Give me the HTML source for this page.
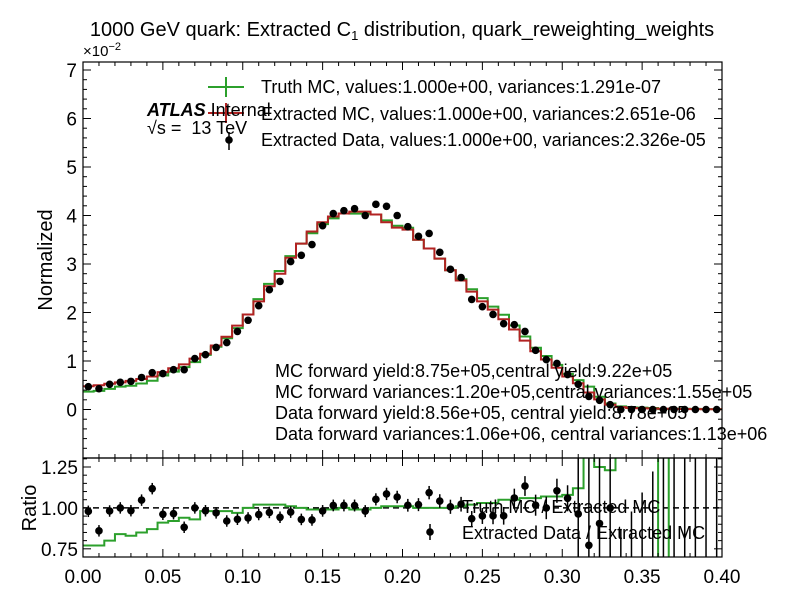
<!DOCTYPE html>
<html><head><meta charset="utf-8"><style>
html,body{margin:0;padding:0;background:#fff;width:799px;height:599px;overflow:hidden;position:relative;}
svg{display:block;font-family:"Liberation Sans",sans-serif;}
</style></head><body>
<svg id="c" width="799" height="599" style="position:absolute;left:0;top:0" xmlns="http://www.w3.org/2000/svg"></svg>
<script>
const redVals=[0.48,0.50,0.53,0.56,0.59,0.63,0.68,0.77,0.85,0.93,1.05,1.15,1.32,1.50,1.73,1.96,2.23,2.54,2.80,3.13,3.42,3.67,3.86,3.98,4.04,4.08,4.08,4.02,3.86,3.75,3.71,3.50,3.32,3.11,2.87,2.66,2.43,2.23,2.06,1.86,1.65,1.42,1.20,1.03,0.86,0.68,0.54,0.35,0.21,0.10,0.05,0.03,0.025,0.02,0.015,0.012,0.01,0.008,0.006,0.005];
const truthRatio=[0.77,0.77,0.80,0.84,0.83,0.85,0.87,0.91,0.92,0.94,0.93,0.98,0.98,0.98,0.97,1.00,1.02,1.02,1.02,1.01,1.00,0.99,0.99,0.99,1.00,0.99,0.99,1.00,1.01,1.01,1.01,1.00,1.00,1.00,1.00,1.01,1.02,1.03,1.03,1.05,1.05,1.06,1.06,1.07,1.07,1.08,1.12,1.35,1.25,1.23,1.31,1.5,1.5,1.5,0.5,1.5,1.5,1.5,1.5,1.5];
const dataVals=[0.47,0.43,0.52,0.56,0.58,0.66,0.76,0.74,0.82,0.82,1.05,1.13,1.28,1.38,1.61,1.84,2.14,2.47,2.64,3.05,3.18,3.40,3.79,4.04,4.10,4.14,4.00,4.23,4.19,4.00,3.77,3.57,3.63,3.24,2.89,2.72,2.27,2.12,1.96,1.77,1.75,1.61,1.22,1.03,0.95,0.72,0.52,0.27,0.19,0.10,0.0,0.0,0.0,0.0,0.0,0.0,0.0,0.0,0.0,0.0];
const xTicks=["0.00","0.05","0.10","0.15","0.20","0.25","0.30","0.35","0.40"];
const yTicks=["0","1","2","3","4","5","6","7"];
const rTicks=["0.75","1.00","1.25"];

const NS="http://www.w3.org/2000/svg";
const svg=document.getElementById('c');
const L=83,R=722,T=62,MB=458,RB=557;
const X=v=>L+(v-0)/0.4*(R-L);
const Y=v=>MB-(v+1)/(7.165+1)*(MB-T);
const YR=v=>RB-(v-0.70)/(1.305-0.70)*(RB-MB);
function el(tag,attrs,parent){const e=document.createElementNS(NS,tag);for(const k in attrs)e.setAttribute(k,attrs[k]);(parent||svg).appendChild(e);return e;}
function txt(s,x,y,attrs){const t=el('text',Object.assign({x:x,y:y,'font-size':19,fill:'#000'},attrs||{}));t.textContent=s;return t;}
const bw=0.4/60;
const defs=el('defs',{});
const cp1=el('clipPath',{id:'cm'},defs);el('rect',{x:L,y:T,width:R-L,height:MB-T},cp1);
const cp2=el('clipPath',{id:'cr'},defs);el('rect',{x:L,y:MB,width:R-L,height:RB-MB},cp2);
const gm=el('g',{'clip-path':'url(#cm)'});

const gr=el('g',{'clip-path':'url(#cr)'});

function stepPath(vals,yf){let d='';vals.forEach((v,i)=>{const x0=X(i*bw),x1=X((i+1)*bw),y=yf(v);d+=(i?'L':'M')+x0+','+y+'L'+x1+','+y;});return d;}
const green=redVals.map((v,i)=>v*truthRatio[i]);
const pg=el('path',{d:stepPath(green,Y),fill:'none',stroke:'#2ca02c','stroke-width':2},gm);

const pr=el('path',{d:stepPath(redVals,Y),fill:'none',stroke:'#b22222','stroke-width':2},gm);

dataVals.forEach((v,i)=>{const c=el('circle',{cx:X((i+0.5)*bw),cy:Y(v),r:3.8,fill:'#000'},gm);
});
el('line',{x1:L,x2:R,y1:YR(1),y2:YR(1),stroke:'#000','stroke-width':1.5,'stroke-dasharray':'6,4'},gr);
const prg=el('path',{d:stepPath(truthRatio,YR),fill:'none',stroke:'#2ca02c','stroke-width':2},gr);

dataVals.forEach((v,i)=>{const r=v/redVals[i];const e=0.035+0.25*Math.pow(i/60,6)*10*(i>45?1:0.1);const cx=X((i+0.5)*bw);
el('line',{x1:cx,x2:cx,y1:YR(r+e),y2:YR(r-e),stroke:'#000','stroke-width':1.5},gr);
const c=el('circle',{cx:cx,cy:YR(r),r:3.8,fill:'#000'},gr);
});
el('rect',{x:L,y:T,width:R-L,height:MB-T,fill:'none',stroke:'#000','stroke-width':1.2});
el('rect',{x:L,y:MB,width:R-L,height:RB-MB,fill:'none',stroke:'#000','stroke-width':1.2});
for(let k=0;k<=40;k++){const x=X(k*0.01);const big=k%5==0;const l=big?8:4;
[[T,1],[MB,-1],[MB,1],[RB,-1]].forEach(([y,s])=>el('line',{x1:x,x2:x,y1:y,y2:y+s*l,stroke:'#000'}));}
xTicks.forEach((s,i)=>{const t=txt(s,X(i*0.05),583,{'text-anchor':'middle'});});
for(let k=-5;k<=35;k++){const v=k*0.2;const y=Y(v);if(y<T||y>MB)continue;const big=k%5==0;const l=big?8:4;
el('line',{x1:L,x2:L+l,y1:y,y2:y,stroke:'#000'});el('line',{x1:R,x2:R-l,y1:y,y2:y,stroke:'#000'});}
yTicks.forEach((s,i)=>{const t=txt(s,77,Y(i)+7,{'text-anchor':'end'});});
for(let k=14;k<=26;k++){const v=k*0.05;const y=YR(v);if(y<MB||y>RB)continue;const big=k%5==0;const l=big?8:4;
el('line',{x1:L,x2:L+l,y1:y,y2:y,stroke:'#000'});el('line',{x1:R,x2:R-l,y1:y,y2:y,stroke:'#000'});}
rTicks.forEach((s,i)=>{const t=txt(s,78,YR(0.75+i*0.25)+7,{'text-anchor':'end'});});
</script>
<svg width="799" height="599" style="position:absolute;left:0;top:0" xmlns="http://www.w3.org/2000/svg" font-family="Liberation Sans, sans-serif">
<text x="402" y="36" font-size="20" text-anchor="middle">1000 GeV quark: Extracted C<tspan font-size="13" dy="4">1</tspan><tspan dy="-4"> distribution, quark_reweighting_weights</tspan></text>
<text x="83" y="56" font-size="15">×10<tspan font-size="11" dy="-6">−2</tspan></text>
<text x="52" y="260" font-size="20" text-anchor="middle" transform="rotate(-90 52 260)">Normalized</text>
<text x="36" y="508" font-size="20" text-anchor="middle" transform="rotate(-90 36 508)">Ratio</text>
<g font-size="18">
<line x1="208" x2="244" y1="87" y2="87" stroke="#2ca02c" stroke-width="2"/><line x1="226" x2="226" y1="77" y2="97" stroke="#2ca02c" stroke-width="2"/>
<text x="261" y="93">Truth MC, values:1.000e+00, variances:1.291e-07</text>
<line x1="208" x2="244" y1="113" y2="113" stroke="#b22222" stroke-width="2"/><line x1="226" x2="226" y1="103" y2="123" stroke="#b22222" stroke-width="2"/>
<text x="261" y="120">Extracted MC, values:1.000e+00, variances:2.651e-06</text>
<line x1="229" x2="229" y1="132" y2="150" stroke="#000" stroke-width="1.5"/><circle cx="229" cy="140" r="3.8"/>
<text x="261" y="146">Extracted Data, values:1.000e+00, variances:2.326e-05</text>
</g>
<text x="147" y="116" font-size="18" font-weight="bold" font-style="italic">ATLAS <tspan font-weight="normal" font-style="normal">Internal</tspan></text>
<text x="147" y="134" font-size="18" xml:space="preserve">√s =  13 TeV</text>
<g font-size="18">
<text x="275" y="377">MC forward yield:8.75e+05,central yield:9.22e+05</text>
<text x="275" y="398">MC forward variances:1.20e+05,central variances:1.55e+05</text>
<text x="275" y="419">Data forward yield:8.56e+05, central yield:8.78e+05</text>
<text x="275" y="440">Data forward variances:1.06e+06, central variances:1.13e+06</text>
</g>
<g font-size="18">
<text x="462" y="513">Truth MC / Extracted MC</text>
<line x1="430" x2="430" y1="524" y2="540" stroke="#000" stroke-width="1.5"/><circle cx="430" cy="532" r="3.8"/>
<text x="462" y="539">Extracted Data / Extracted MC</text>
</g>
</svg>
</body></html>
